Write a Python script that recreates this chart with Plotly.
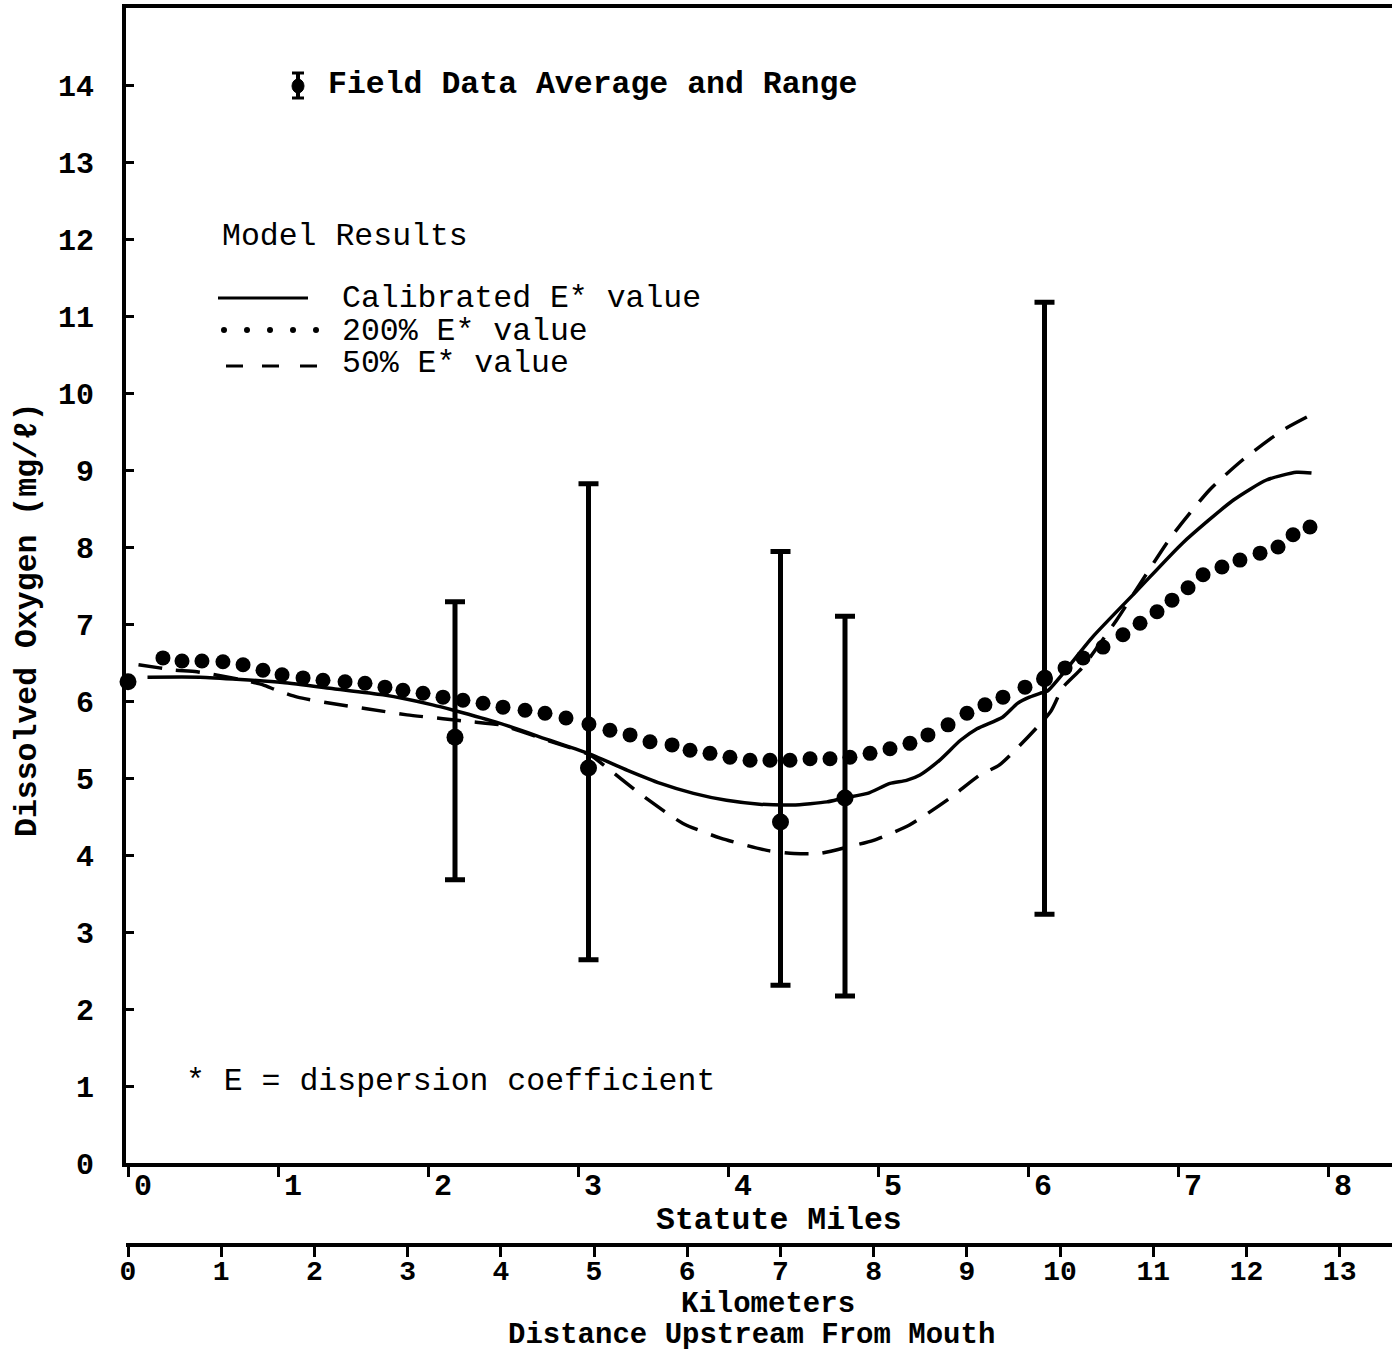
import plotly.graph_objects as go

# ---------------- data ----------------
FIELD_MILES = [0.0, 2.18, 3.07, 4.35, 4.78, 6.11]
FIELD_MEAN = [6.25, 5.53, 5.13, 4.43, 4.74, 6.29]
RANGE_MILES = [2.18, 3.07, 4.35, 4.78, 6.11]
RANGE_MEAN = [5.53, 5.13, 4.43, 4.74, 6.29]
RANGE_LOW = [3.68, 2.64, 2.31, 2.17, 3.23]
RANGE_HIGH = [7.29, 8.82, 7.94, 7.10, 11.18]

CALIB_MILES = [0.13, 0.48, 0.75, 1.03, 1.37, 1.70, 2.03, 2.17, 2.48, 2.81, 3.08, 3.33,
               3.55, 3.77, 3.99, 4.21, 4.43, 4.66, 4.77, 4.93, 5.08, 5.19, 5.28, 5.41,
               5.55, 5.66, 5.83, 5.93, 6.01, 6.08, 6.13, 6.43, 6.73, 7.03, 7.37, 7.59,
               7.79, 7.89]
CALIB_DO = [6.31, 6.31, 6.28, 6.24, 6.16, 6.08, 5.95, 5.88, 5.71, 5.49, 5.31, 5.10,
            4.93, 4.80, 4.71, 4.66, 4.65, 4.69, 4.74, 4.80, 4.93, 4.97, 5.04, 5.23,
            5.49, 5.64, 5.79, 5.97, 6.05, 6.10, 6.13, 6.83, 7.44, 8.05, 8.61, 8.87,
            8.97, 8.96]

HALF_MILES = [0.07, 0.21, 0.31, 0.46, 0.77, 0.90, 0.99, 1.13, 1.35, 1.59, 1.86, 2.10,
              2.29, 2.48, 2.81, 3.08, 3.17, 3.41, 3.70, 3.95, 4.26, 4.44, 4.61, 4.81,
              4.97, 5.21, 5.48, 5.68, 5.81, 6.15, 6.23, 6.36, 6.59, 6.75, 6.95, 7.21,
              7.43, 7.70, 7.86]
HALF_DO = [6.47, 6.43, 6.40, 6.38, 6.27, 6.21, 6.14, 6.05, 5.97, 5.90, 5.82, 5.77,
           5.73, 5.69, 5.48, 5.30, 5.17, 4.80, 4.41, 4.22, 4.06, 4.02, 4.02, 4.11,
           4.19, 4.39, 4.74, 5.04, 5.17, 5.86, 6.17, 6.43, 7.05, 7.53, 8.12, 8.74,
           9.13, 9.52, 9.69]

DOUBLE_MILES = [0.233, 0.36, 0.493, 0.633, 0.767, 0.90, 1.027, 1.167, 1.30, 1.447, 1.58,
                1.713, 1.833, 1.967, 2.10, 2.233, 2.367, 2.50, 2.647, 2.78, 2.92, 3.073,
                3.213, 3.347, 3.48, 3.627, 3.747, 3.88, 4.013, 4.147, 4.28, 4.413, 4.547,
                4.68, 4.813, 4.947, 5.08, 5.213, 5.333, 5.467, 5.593, 5.713, 5.833, 5.98,
                6.113, 6.247, 6.367, 6.50, 6.633, 6.747, 6.86, 6.96, 7.067, 7.167, 7.293,
                7.413, 7.547, 7.667, 7.767, 7.88]
DOUBLE_DO = [6.56, 6.52, 6.52, 6.51, 6.47, 6.40, 6.34, 6.30, 6.27, 6.25, 6.23,
             6.18, 6.14, 6.10, 6.05, 6.01, 5.97, 5.92, 5.88, 5.84, 5.78, 5.70,
             5.62, 5.56, 5.47, 5.43, 5.36, 5.32, 5.27, 5.23, 5.23, 5.23, 5.25,
             5.25, 5.27, 5.32, 5.38, 5.45, 5.56, 5.69, 5.84, 5.95, 6.05, 6.18,
             6.31, 6.43, 6.56, 6.70, 6.86, 7.01, 7.16, 7.31, 7.47, 7.64, 7.74,
             7.83, 7.92, 8.00, 8.16, 8.26]

Y_TICKS = list(range(0, 15))
MILE_TICKS = list(range(0, 9))
KM_TICKS = list(range(0, 14))

# ---------------- layout helpers ----------------
W, H = 1392, 1352
L, R, T, B = 126, 0, 8, 107
PW, PH = W - L - R, H - T - B
X_ZERO_PX = 128
PX_PER_MILE = 150.0
KM_PER_MILE = 1.609344
MILE_RANGE = [(L - X_ZERO_PX) / PX_PER_MILE, (W - R - X_ZERO_PX) / PX_PER_MILE]
KM_RANGE = [v * KM_PER_MILE for v in MILE_RANGE]
Y_BOTTOM_PX = 1163
Y_DOMAIN0 = (H - B - Y_BOTTOM_PX) / PH


def pxx(x):
    return (x - L) / PW


def pxy(y):
    return (H - B - y) / PH


MONO = "Liberation Mono"
BOLD = dict(family=MONO, size=30, color="black", weight="bold")
BOLD_KM = dict(family=MONO, size=28, color="black", weight="bold")
BOLD_T = dict(family=MONO, size=31.5, color="black", weight="bold")
BOLD_S = dict(family=MONO, size=29, color="black", weight="bold")
REG = dict(family=MONO, size=31.5, color="black")

fig = go.Figure()

# 200% E* dotted series
fig.add_trace(go.Scatter(x=DOUBLE_MILES, y=DOUBLE_DO, mode="markers",
                         marker=dict(size=15, color="black"), showlegend=False))
# Calibrated solid
fig.add_trace(go.Scatter(x=CALIB_MILES, y=CALIB_DO, mode="lines",
                         line=dict(color="black", width=3.5, shape="spline", smoothing=0.6),
                         showlegend=False))
# 50% dashed
fig.add_trace(go.Scatter(x=HALF_MILES, y=HALF_DO, mode="lines",
                         line=dict(color="black", width=3.5, dash="24px,14px",
                                   shape="spline", smoothing=0.6),
                         showlegend=False))
# Field data ranges
fig.add_trace(go.Scatter(
    x=RANGE_MILES, y=RANGE_MEAN, mode="markers",
    marker=dict(size=1, color="black"),
    error_y=dict(type="data", symmetric=False,
                 array=[h - m for h, m in zip(RANGE_HIGH, RANGE_MEAN)],
                 arrayminus=[m - lo for m, lo in zip(RANGE_MEAN, RANGE_LOW)],
                 color="black", thickness=5, width=10),
    showlegend=False))
# Field data averages
fig.add_trace(go.Scatter(x=FIELD_MILES, y=FIELD_MEAN, mode="markers",
                         marker=dict(size=17, color="black"), cliponaxis=False,
                         showlegend=False))

# ---------------- annotations ----------------
ann = []


def add_text(text, x, y, font, xanchor="left", textangle=0):
    ann.append(dict(text=text, x=pxx(x), y=pxy(y), xref="paper", yref="paper",
                    xanchor=xanchor, yanchor="middle", showarrow=False,
                    font=font, textangle=textangle))


add_text("Field Data Average and Range", 326, 85, BOLD_T)
add_text("Model Results", 220, 236, REG)
add_text("Calibrated E* value", 340, 298, REG)
add_text("200% E* value", 340, 331, REG)
add_text("50% E* value", 340, 364, REG)
add_text("* E = dispersion coefficient", 184, 1081, REG)
add_text("Statute Miles", 779, 1220, BOLD_T, xanchor="center")
add_text("Kilometers", 768, 1304, BOLD_S, xanchor="center")
add_text("Distance Upstream From Mouth", 751, 1335, BOLD_S, xanchor="center")
add_text("Dissolved Oxygen (mg/ℓ)", 27, 620, BOLD_T, xanchor="center", textangle=-90)

# ---------------- legend sample shapes ----------------
shapes = []
# Field data icon
shapes.append(dict(type="line", xref="paper", yref="paper", x0=pxx(298), x1=pxx(298),
                   y0=pxy(73), y1=pxy(98), line=dict(color="black", width=4)))
for yy in (73, 98):
    shapes.append(dict(type="line", xref="paper", yref="paper", x0=pxx(292), x1=pxx(304),
                       y0=pxy(yy), y1=pxy(yy), line=dict(color="black", width=3)))
shapes.append(dict(type="circle", xref="paper", yref="paper", x0=pxx(292), x1=pxx(304),
                   y0=pxy(79), y1=pxy(93), fillcolor="black", line=dict(color="black", width=1)))
# Solid sample
shapes.append(dict(type="line", xref="paper", yref="paper", x0=pxx(218), x1=pxx(308),
                   y0=pxy(298), y1=pxy(298), line=dict(color="black", width=3)))
# Dotted sample
for cx in (224, 247, 270, 293, 316):
    shapes.append(dict(type="circle", xref="paper", yref="paper",
                       x0=pxx(cx - 3), x1=pxx(cx + 3), y0=pxy(327), y1=pxy(333),
                       fillcolor="black", line=dict(color="black", width=0)))
# Dashed sample
for x0 in (226, 262, 300):
    shapes.append(dict(type="line", xref="paper", yref="paper", x0=pxx(x0), x1=pxx(x0 + 17),
                       y0=pxy(366), y1=pxy(366), line=dict(color="black", width=3)))

fig.update_layout(
    width=W, height=H,
    margin=dict(l=L, r=R, t=T, b=B, pad=0),
    paper_bgcolor="white", plot_bgcolor="white",
    showlegend=False,
    annotations=ann,
    shapes=shapes,
    xaxis=dict(range=MILE_RANGE, domain=[0, 1], anchor="y",
               showline=True, linewidth=4, linecolor="black", mirror=True,
               ticks="outside", ticklen=10, tickwidth=3, tickcolor="black",
               tickvals=MILE_TICKS, ticktext=[str(v) for v in MILE_TICKS],
               tickfont=BOLD, ticklabelstandoff=-18, ticklabelshift=15,
               showgrid=False, zeroline=False),
    xaxis2=dict(range=KM_RANGE, overlaying="x", anchor="free", position=0, side="bottom",
                showline=True, linewidth=4, linecolor="black",
                ticks="outside", ticklen=10, tickwidth=3, tickcolor="black",
                tickvals=KM_TICKS, ticktext=[str(v) for v in KM_TICKS],
                tickfont=BOLD_KM, ticklabelstandoff=-11,
                showgrid=False, zeroline=False),
    yaxis=dict(range=[0, 15], domain=[Y_DOMAIN0, 1], anchor="x",
               showline=True, linewidth=4, linecolor="black",
               ticks="inside", ticklen=8, tickwidth=3, tickcolor="black",
               tickvals=Y_TICKS, ticktext=[str(v) for v in Y_TICKS],
               tickfont=BOLD, ticklabelstandoff=22,
               showgrid=False, zeroline=False),
)

# dummy trace so xaxis2 renders
fig.add_trace(go.Scatter(x=[None], y=[None], xaxis="x2", yaxis="y", showlegend=False,
                         hoverinfo="skip"))

fig.write_html("out.html")
